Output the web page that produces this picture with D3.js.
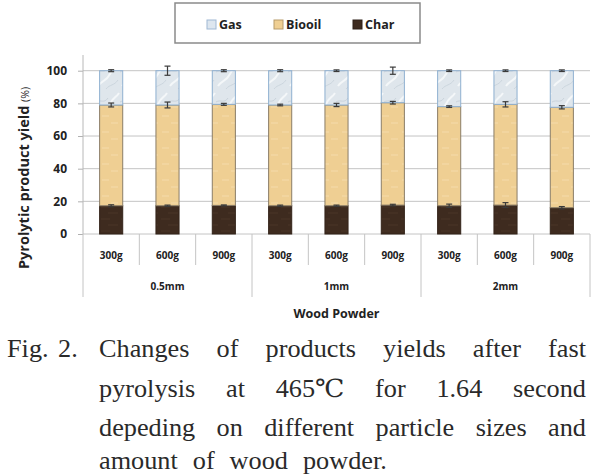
<!DOCTYPE html>
<html><head><meta charset="utf-8">
<script src="https://cdn.jsdelivr.net/npm/d3@7"></script>
<style>body{margin:0;background:#fff}svg{display:block}</style>
</head><body>
<script>
const groups = ["0.5mm","1mm","2mm"];
const amounts = ["300g","600g","900g","300g","600g","900g","300g","600g","900g"];
const groupOf = [0,0,0,1,1,1,2,2,2];
const charVals   = [17.3, 17.3, 17.5, 17.3, 17.3, 17.7, 17.3, 17.7, 16.1];
const biooilVals = [61.7, 61.7, 61.9, 61.7, 61.7, 62.7, 60.7, 61.7, 61.5];
const gasVals    = [21.0, 21.0, 20.6, 21.0, 21.0, 19.6, 22.0, 20.6, 22.4];
const charErr   = [0.6, 0.4, 0.3, 0.4, 0.4, 0.5, 1.0, 1.5, 0.7];
const biooilErr = [1.2, 1.8, 0.6, 0.5, 1.0, 0.8, 0.5, 1.6, 1.0];
const gasErr    = [0.6, 2.8, 0.6, 0.6, 0.5, 2.2, 0.5, 0.5, 0.5];
const yTicks = [0,20,40,60,80,100];
const seriesNames = ["Gas","Biooil","Char"];
const captionLines = [
  ["Changes","of","products","yields","after","fast"],
  ["pyrolysis","at","465℃","for","1.64","second"],
  ["depeding","on","different","particle","sizes","and"],
  ["amount","of","wood","powder."]
];

(function(){
const W=597,H=476;
const svg=d3.select("body").append("svg").attr("width",W).attr("height",H);
const defs=svg.append("defs");
const pg=defs.append("pattern").attr("id","gasPat").attr("patternUnits","userSpaceOnUse").attr("width",24).attr("height",30);
pg.append("rect").attr("width",24).attr("height",30).attr("fill","#dfe6ec");
pg.append("path").attr("d","M2,26 C6,20 10,22 14,14 S20,8 23,3").attr("fill","none").attr("stroke","#f4f7f9").attr("stroke-width",2);
pg.append("path").attr("d","M0,12 C5,9 8,14 12,8").attr("fill","none").attr("stroke","#c9d3db").attr("stroke-width",1);
pg.append("path").attr("d","M10,29 C14,24 18,26 22,20").attr("fill","none").attr("stroke","#ccd6de").attr("stroke-width",1);
const pb=defs.append("pattern").attr("id","bioPat").attr("patternUnits","userSpaceOnUse").attr("width",20).attr("height",16);
pb.append("rect").attr("width",20).attr("height",16).attr("fill","#efcf93");
pb.append("path").attr("d","M2,4 L9,4 M11,11 L18,11").attr("stroke","#f5dcab").attr("stroke-width",1);
const pc=defs.append("pattern").attr("id","charPat").attr("patternUnits","userSpaceOnUse").attr("width",20).attr("height",12);
pc.append("rect").attr("width",20).attr("height",12).attr("fill","#3e2b1f");
pc.append("path").attr("d","M1,3 L10,3 M8,9 L18,9").attr("stroke","#4a3426").attr("stroke-width",1);

const pL=83,pR=590,pT=70.7,pB=234;
const y=d3.scaleLinear().domain([0,100]).range([pB,pT]);
const idx=d3.range(amounts.length);
const x=d3.scaleBand().domain(idx).range([pL,pR]).paddingInner(0.59).paddingOuter(0.295);
const xc=d3.scaleBand().domain(idx).range([pL,pR]);
const xg=d3.scaleBand().domain(d3.range(groups.length)).range([pL,pR]);

const sansB="'Open Sans', 'Liberation Sans', sans-serif";
svg.append("g").selectAll("line").data(yTicks).join("line")
  .attr("x1",pL).attr("x2",pR).attr("y1",d=>y(d)).attr("y2",d=>y(d))
  .attr("stroke","#c4c4c4").attr("stroke-width",1);
const ya=svg.append("g").attr("transform",`translate(${pL},0)`)
  .call(d3.axisLeft(y).tickValues(yTicks).tickSize(5).tickPadding(11).tickFormat(d3.format("d")));
ya.select(".domain").remove();
ya.selectAll(".tick line").attr("stroke","#b0b0b0");
ya.selectAll(".tick text").attr("font-family",sansB).attr("font-weight","bold").attr("font-size",12).attr("fill","#222");
svg.append("line").attr("x1",pL).attr("x2",pL).attr("y1",55).attr("y2",pB).attr("stroke","#b8b8b8");

const stackData=idx.map(i=>({i,Char:charVals[i],Biooil:biooilVals[i],Gas:gasVals[i]}));
const stack=d3.stack().keys(["Char","Biooil","Gas"])(stackData);
const fills={Char:"url(#charPat)",Biooil:"url(#bioPat)",Gas:"url(#gasPat)"};
const strokes={Char:"#33241a",Biooil:"#8a7d68",Gas:"#8fb0d0"};
stack.forEach(s=>{
  svg.append("g").selectAll("rect").data(s).join("rect")
    .attr("x",d=>x(d.data.i)).attr("width",x.bandwidth())
    .attr("y",d=>y(d[1])).attr("height",d=>y(d[0])-y(d[1]))
    .attr("fill",fills[s.key]).attr("stroke",strokes[s.key]).attr("stroke-width",1);
});
const errs={Char:charErr,Biooil:biooilErr,Gas:gasErr};
const eg=svg.append("g").attr("stroke","#3a3a3a").attr("stroke-width",1.2);
stack.forEach(s=>{
  s.forEach(d=>{
    const e=errs[s.key][d.data.i], cx=x(d.data.i)+x.bandwidth()/2, v=d[1];
    eg.append("line").attr("x1",cx).attr("x2",cx).attr("y1",y(v-e)).attr("y2",y(v+e));
    eg.append("line").attr("x1",cx-3).attr("x2",cx+3).attr("y1",y(v-e)).attr("y2",y(v-e));
    eg.append("line").attr("x1",cx-3).attr("x2",cx+3).attr("y1",y(v+e)).attr("y2",y(v+e));
  });
});

const sep=svg.append("g").attr("stroke","#c4c4c4").attr("stroke-width",1);
idx.forEach(i=>{
  const xl=xc(i);
  const isGroupStart = i===0 || groupOf[i]!==groupOf[i-1];
  sep.append("line").attr("x1",xl).attr("x2",xl).attr("y1",pB).attr("y2",isGroupStart?297:265);
});
sep.append("line").attr("x1",pR).attr("x2",pR).attr("y1",pB).attr("y2",297);
svg.append("g").selectAll("text").data(idx).join("text")
  .attr("x",i=>xc(i)+xc.bandwidth()/2).attr("y",259).attr("text-anchor","middle")
  .attr("font-family",sansB).attr("font-weight","bold").attr("font-size",10).attr("fill","#222")
  .text(i=>amounts[i]);
svg.append("g").selectAll("text").data(groups).join("text")
  .attr("x",(d,i)=>xg(i)+xg.bandwidth()/2).attr("y",290).attr("text-anchor","middle")
  .attr("font-family",sansB).attr("font-weight","bold").attr("font-size",10).attr("fill","#222")
  .text(d=>d);
svg.append("text").attr("x",(pL+pR)/2).attr("y",318).attr("text-anchor","middle")
  .attr("font-family",sansB).attr("font-weight","bold").attr("font-size",12.5).attr("fill","#222")
  .text("Wood Powder");

const yl=svg.append("text").attr("transform","translate(29,178) rotate(-90)").attr("text-anchor","middle")
  .attr("font-family",sansB).attr("fill","#222");
yl.append("tspan").attr("font-weight","bold").attr("font-size",14.5).text("Pyrolytic product yield ");
yl.append("tspan").attr("font-size",10.5).text("(%)");

svg.append("rect").attr("x",175).attr("y",3).attr("width",245).attr("height",40)
  .attr("fill","#fff").attr("stroke","#8a8a8a").attr("stroke-width",1.5);
const legItems=[{x:207,f:"#dde6ef",s:"#9fb8d4"},{x:274,f:"#efcf93",s:"#b79b6a"},{x:353,f:"#3e2b1f",s:"#2e2018"}];
const lg=svg.append("g").selectAll("g").data(legItems).join("g");
lg.append("rect").attr("x",d=>d.x).attr("y",20).attr("width",9).attr("height",9)
  .attr("fill",d=>d.f).attr("stroke",d=>d.s);
lg.append("text").attr("x",d=>d.x+12).attr("y",29).attr("font-family",sansB).attr("font-weight","bold")
  .attr("font-size",12.5).attr("fill","#222").text((d,i)=>seriesNames[i]);

const serif="'Liberation Serif','DejaVu Serif',serif";
const stretch=1.05;
const cap=svg.append("g").attr("font-family",serif).attr("font-size",25).attr("fill","#2a2a2a");
function word(xp,yp,w){
  const t=cap.append("text").attr("x",xp).attr("y",yp).text(w);
  const L=t.node().getComputedTextLength()*stretch;
  t.attr("textLength",L).attr("lengthAdjust","spacingAndGlyphs");
  return {t,L};
}
word(7,357,"Fig.");
word(58,357,"2.");
const baselines=[357,397,436,469];
const xL=99,xR=586;
captionLines.forEach((words,li)=>{
  const last=li===captionLines.length-1;
  const ws=words.map(w=>word(0,baselines[li],w));
  const total=d3.sum(ws,d=>d.L);
  const gap= last ? 15 : (xR-xL-total)/(words.length-1);
  let cx=xL;
  ws.forEach(d=>{d.t.attr("x",cx); cx+=d.L+gap;});
});
})();
</script>
</body></html>
